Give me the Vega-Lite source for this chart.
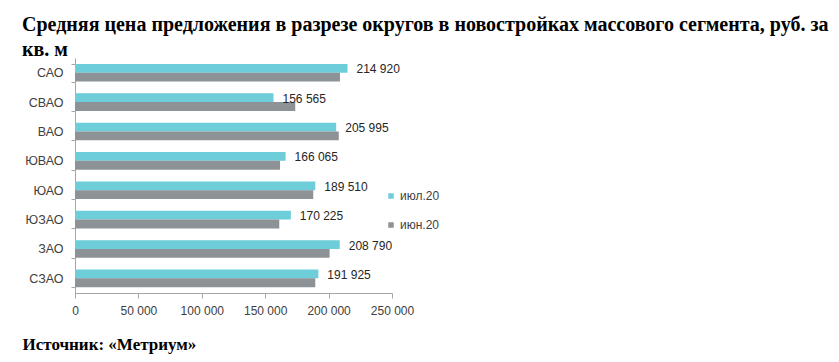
{
  "$schema": "https://vega.github.io/schema/vega-lite/v6.json",
  "width": 317,
  "height": 235,
  "autosize": {"type": "none"},
  "padding": {"left": 75, "top": 58, "right": 447, "bottom": 69},
  "background": "white",
  "title": {
    "text": ["Средняя цена предложения в разрезе округов в новостройках массового сегмента, руб. за", "кв. м"],
    "anchor": "start",
    "frame": "group",
    "dx": -53,
    "offset": -8,
    "font": "Liberation Serif",
    "fontSize": 20,
    "fontWeight": "bold",
    "color": "#000000",
    "lineHeight": 25
  },
  "config": {
    "view": {"stroke": null},
    "locale": {"number": {"decimal": ",", "thousands": " ", "grouping": [3], "currency": ["", ""]}}
  },
  "data": {
    "values": [
      {"district": "САО", "month": "июл.20", "value": 214920},
      {"district": "СВАО", "month": "июл.20", "value": 156565},
      {"district": "ВАО", "month": "июл.20", "value": 205995},
      {"district": "ЮВАО", "month": "июл.20", "value": 166065},
      {"district": "ЮАО", "month": "июл.20", "value": 189510},
      {"district": "ЮЗАО", "month": "июл.20", "value": 170225},
      {"district": "ЗАО", "month": "июл.20", "value": 208790},
      {"district": "СЗАО", "month": "июл.20", "value": 191925},
      {"district": "САО", "month": "июн.20", "value": 209000},
      {"district": "СВАО", "month": "июн.20", "value": 173700},
      {"district": "ВАО", "month": "июн.20", "value": 208000},
      {"district": "ЮВАО", "month": "июн.20", "value": 161700},
      {"district": "ЮАО", "month": "июн.20", "value": 187900},
      {"district": "ЮЗАО", "month": "июн.20", "value": 161100},
      {"district": "ЗАО", "month": "июн.20", "value": 200800},
      {"district": "СЗАО", "month": "июн.20", "value": 189500}
    ]
  },
  "encoding": {
    "y": {
      "field": "district",
      "type": "nominal",
      "scale": {"domain": ["САО", "СВАО", "ВАО", "ЮВАО", "ЮАО", "ЮЗАО", "ЗАО", "СЗАО"], "paddingInner": 0.4, "paddingOuter": 0.2},
      "axis": {
        "title": null,
        "tickBand": "extent",
        "tickSize": 4,
        "tickColor": "#a6a6a6",
        "domainColor": "#a6a6a6",
        "labelFont": "Liberation Sans",
        "labelFontSize": 12.5,
        "labelColor": "#404040",
        "labelPadding": 8
      }
    },
    "yOffset": {
      "field": "month",
      "type": "nominal",
      "scale": {"domain": ["июл.20", "июн.20"], "paddingInner": 0, "paddingOuter": 0}
    },
    "x": {
      "field": "value",
      "type": "quantitative",
      "scale": {"domain": [0, 250000], "nice": false},
      "axis": {
        "values": [0, 50000, 100000, 150000, 200000, 250000],
        "format": ",.0f",
        "labelOverlap": false,
        "labelBound": false,
        "labelFlush": false,
        "grid": false,
        "tickSize": 5,
        "tickColor": "#a6a6a6",
        "domainColor": "#a6a6a6",
        "labelFont": "Liberation Sans",
        "labelFontSize": 12,
        "labelColor": "#404040",
        "labelPadding": 7,
        "title": "Источник: «Метриум»",
        "titleFont": "Liberation Serif",
        "titleFontSize": 17,
        "titleFontWeight": "bold",
        "titleColor": "#000000",
        "titleAnchor": "start",
        "titleAlign": "left",
        "titleBaseline": "alphabetic",
        "titleX": -53,
        "titleY": 56
      }
    }
  },
  "layer": [
    {
      "mark": {"type": "bar"},
      "encoding": {
        "color": {
          "field": "month",
          "type": "nominal",
          "scale": {"domain": ["июл.20", "июн.20"], "range": ["#6dcdd8", "#8c9296"]},
          "legend": {
            "title": null,
            "orient": "none",
            "legendX": 310,
            "legendY": 132,
            "symbolType": "square",
            "symbolSize": 30,
            "symbolStrokeWidth": 0,
            "labelFont": "Liberation Sans",
            "labelFontSize": 12,
            "labelColor": "#404040",
            "labelOffset": 3,
            "rowPadding": 17
          }
        }
      }
    },
    {
      "transform": [{"filter": "datum.month === 'июл.20'"}],
      "mark": {"type": "text", "align": "left", "baseline": "middle", "dx": 9, "dy": 1, "font": "Liberation Sans", "fontSize": 12, "color": "#262626"},
      "encoding": {
        "text": {"field": "value", "type": "quantitative", "format": ",.0f"}
      }
    }
  ]
}
